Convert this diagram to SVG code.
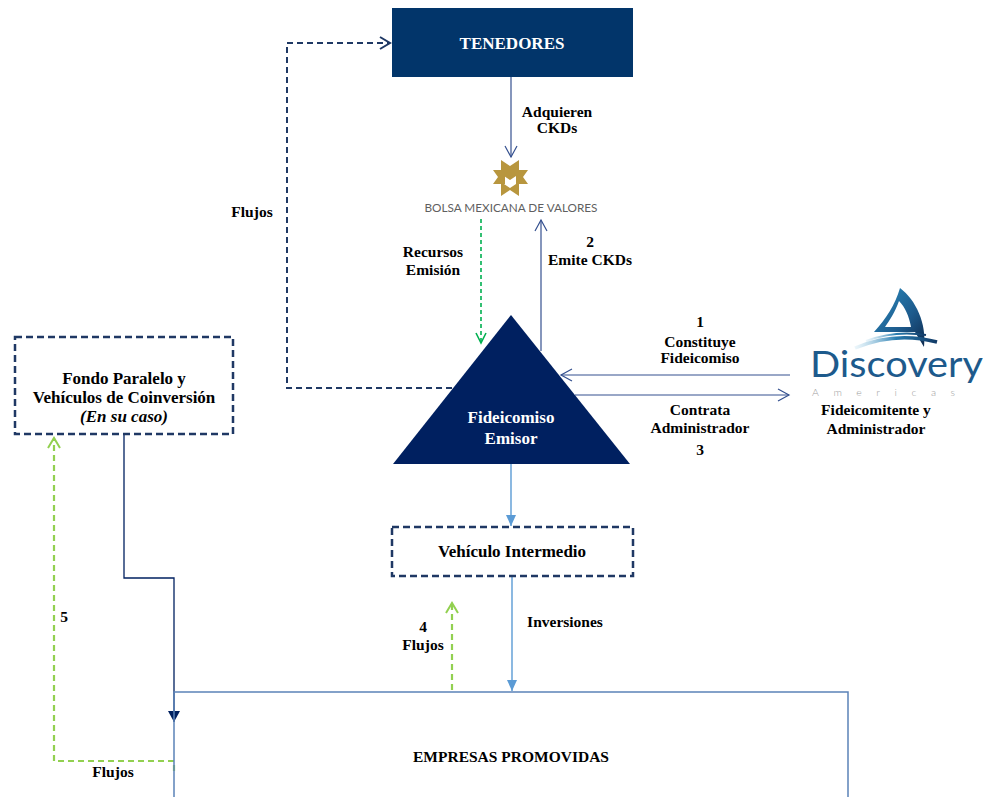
<svg xmlns="http://www.w3.org/2000/svg" width="983" height="797" viewBox="0 0 983 797">
<defs>
<style>
.lbl{font-family:"Liberation Serif","Times New Roman",serif;font-weight:bold;font-size:15.5px;fill:#000;text-anchor:middle}
.big{font-size:17px}
.wht{fill:#fff}
.thin{fill:none;stroke:#34508F;stroke-width:1.2}
.lb{fill:none;stroke:#5B9BD5;stroke-width:1.4}
.dnav{fill:none;stroke:#1F3864;stroke-width:2;stroke-dasharray:6 4}
.dbox{fill:#fff;stroke:#1F3864;stroke-width:2.5;stroke-dasharray:7 4}
.dg{fill:none;stroke:#00B050;stroke-width:1.6;stroke-dasharray:4 3}
.dlg{fill:none;stroke:#92D050;stroke-width:2.2;stroke-dasharray:6 4}
</style>
<marker id="oNav" markerUnits="userSpaceOnUse" markerWidth="14" markerHeight="14" refX="12" refY="7" orient="auto"><path d="M2,1 L12,7 L2,13" fill="none" stroke="#1F3864" stroke-width="2"/></marker>
<marker id="oThin" markerUnits="userSpaceOnUse" markerWidth="14" markerHeight="14" refX="12" refY="7" orient="auto"><path d="M1,1 L12,7 L1,13" fill="none" stroke="#34508F" stroke-width="1.2"/></marker>
<marker id="oG" markerUnits="userSpaceOnUse" markerWidth="14" markerHeight="14" refX="12" refY="7" orient="auto"><path d="M2,2 L12,7 L2,12" fill="none" stroke="#00B050" stroke-width="1.6"/></marker>
<marker id="oLG" markerUnits="userSpaceOnUse" markerWidth="14" markerHeight="14" refX="12" refY="7" orient="auto"><path d="M2,1 L12,7 L2,13" fill="none" stroke="#92D050" stroke-width="2"/></marker>
<marker id="fLB" markerUnits="userSpaceOnUse" markerWidth="12" markerHeight="12" refX="11" refY="6" orient="auto"><path d="M0,1 L11,6 L0,11 Z" fill="#5B9BD5"/></marker>
<marker id="fNav" markerUnits="userSpaceOnUse" markerWidth="12" markerHeight="14" refX="11" refY="7" orient="auto"><path d="M0,1 L11,7 L0,13 Z" fill="#002060"/></marker>
<linearGradient id="sail" x1="0" y1="0" x2="1" y2="1"><stop offset="0" stop-color="#2C8DBF"/><stop offset="0.6" stop-color="#1D5A8C"/><stop offset="1" stop-color="#0E2A4E"/></linearGradient>
<linearGradient id="sw" x1="0" y1="0" x2="1" y2="0"><stop offset="0" stop-color="#9FD0E8" stop-opacity="0.2"/><stop offset="0.5" stop-color="#2A7DB0"/><stop offset="1" stop-color="#123A66"/></linearGradient>
</defs>

<g id="connectors">
<path class="dnav" d="M452,388 H287 V43 H390" marker-end="url(#oNav)"/>
<path class="thin" d="M511,77 V157" marker-end="url(#oThin)"/>
<path class="dg" d="M481,219 V343" marker-end="url(#oG)"/>
<path class="thin" d="M541,351 V220" marker-end="url(#oThin)"/>
<path class="thin" d="M790,375 H561" marker-end="url(#oThin)"/>
<path class="thin" d="M575,395 H789" marker-end="url(#oThin)"/>
<path class="lb" d="M511,464 V526" marker-end="url(#fLB)"/>
<path class="lb" d="M512,576 V691" marker-end="url(#fLB)"/>
<path class="dlg" d="M452,690 V603" marker-end="url(#oLG)"/>
<path fill="none" stroke="#002060" stroke-width="1.3" d="M124,434 V578 H174 V722" marker-end="url(#fNav)"/>
<path class="dlg" d="M174,771 V761 H54 V438" marker-end="url(#oLG)"/>
</g>

<g id="empresas">
<path d="M174,797 V692 H848 V797" fill="none" stroke="#5B82B8" stroke-width="1.5"/>
<text class="lbl" x="511" y="762">EMPRESAS PROMOVIDAS</text>
</g>

<g id="tenedores">
<rect x="392" y="8" width="241" height="69" fill="#02356A"/>
<text class="lbl big wht" x="512" y="49">TENEDORES</text>
</g>

<g id="bmv">
<g fill="#B8963E">
<path d="M501,160 L510,166 L519,160 V174 L510,180 L501,174 Z"/>
<path d="M493,170 H505 V184 H493 L498,177 Z"/>
<path d="M528,170 H516 V184 H528 L523,177 Z"/>
<path d="M501,182 L510,188 L519,182 V196 L510,190 L501,196 Z"/>
</g>
<text x="511" y="212" font-family="Lato,'Liberation Sans',sans-serif" font-size="12" fill="#5F5F5F" text-anchor="middle" textLength="173" lengthAdjust="spacingAndGlyphs">BOLSA MEXICANA DE VALORES</text>
</g>

<g id="fideicomiso">
<polygon points="511,315 393,464 630,464" fill="#002060"/>
<text class="lbl big wht" x="511" y="423">Fideicomiso</text>
<text class="lbl big wht" x="511" y="444">Emisor</text>
</g>

<g id="discovery">
<path d="M900,288 C895,305 886,319 874,332 L915,332 C918,337 921,342 924,347 C927,324 916,300 900,288 Z" fill="url(#sail)"/>
<path d="M899,301 C895,312 890,320 885,327 L911,327 C909,316 905,307 899,301 Z" fill="#fff"/>
<path d="M855,348 Q895,331 937,342" fill="none" stroke="url(#sw)" stroke-width="3.5"/>
<path d="M866,341 Q895,330 926,335" fill="none" stroke="url(#sw)" stroke-width="2"/>
<text x="810" y="377" font-family="Lato,'Open Sans','Liberation Sans',sans-serif" font-size="37" fill="#1D5A8C" textLength="173" lengthAdjust="spacingAndGlyphs">Discovery</text>
<text x="812" y="396" font-family="Lato,'Liberation Sans',sans-serif" font-weight="300" font-size="10.5" fill="#A0A0A0" textLength="143">Americas</text>
<text class="lbl" x="876" y="415">Fideicomitente y</text>
<text class="lbl" x="876" y="434">Administrador</text>
</g>

<g id="fondo">
<rect class="dbox" x="15" y="337" width="218" height="97"/>
<text class="lbl big" x="124" y="384">Fondo Paralelo y</text>
<text class="lbl big" x="124" y="403">Vehículos de Coinversión</text>
<text class="lbl big" x="124" y="422" font-style="italic">(En su caso)</text>
</g>

<g id="vehiculo">
<rect class="dbox" x="392" y="527" width="241" height="49"/>
<text class="lbl big" x="512" y="557">Vehículo Intermedio</text>
</g>

<g id="labels">
<text class="lbl" x="557" y="117">Adquieren</text>
<text class="lbl" x="557" y="133">CKDs</text>
<text class="lbl" x="252" y="217">Flujos</text>
<text class="lbl" x="433" y="257">Recursos</text>
<text class="lbl" x="433" y="275">Emisión</text>
<text class="lbl" x="590" y="247">2</text>
<text class="lbl" x="590" y="265">Emite CKDs</text>
<text class="lbl" x="700" y="327">1</text>
<text class="lbl" x="700" y="347">Constituye</text>
<text class="lbl" x="700" y="363">Fideicomiso</text>
<text class="lbl" x="700" y="415">Contrata</text>
<text class="lbl" x="700" y="433">Administrador</text>
<text class="lbl" x="700" y="455">3</text>
<text class="lbl" x="565" y="627">Inversiones</text>
<text class="lbl" x="423" y="632">4</text>
<text class="lbl" x="423" y="650">Flujos</text>
<text class="lbl" x="64" y="622">5</text>
<text class="lbl" x="113" y="777">Flujos</text>
</g>
</svg>
